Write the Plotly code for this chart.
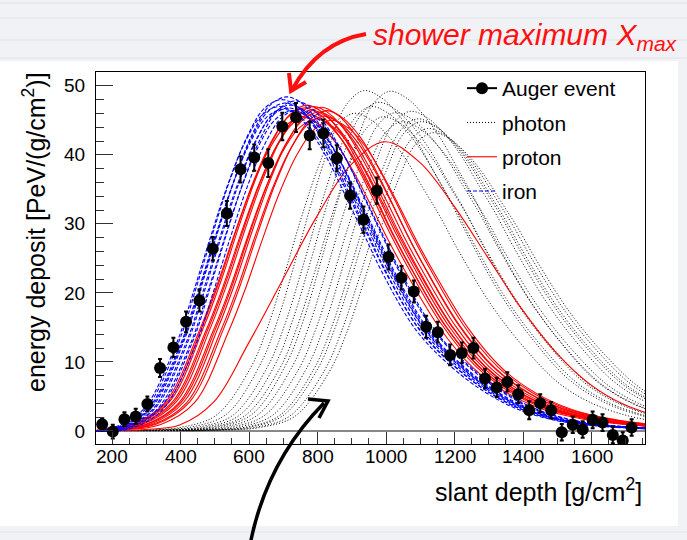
import plotly.graph_objects as go

# ---------------- data ----------------
# Auger event: slant depth [g/cm^2], energy deposit [PeV/(g/cm^2)], error
auger_depth = [171, 202, 236, 269, 303, 340, 379, 416, 455, 494,
               535, 575, 615, 656, 697, 737, 777, 817, 856, 895,
               934, 973, 1007, 1045, 1081, 1117, 1151, 1187, 1221, 1255,
               1289, 1323, 1354, 1386, 1418, 1450, 1482, 1513, 1545, 1574,
               1603, 1632, 1662, 1691, 1717]
auger_dep = [0.97, -0.1, 1.7, 2.1, 3.9, 9.1, 12.1, 15.8, 18.9, 26.4,
             31.5, 37.9, 39.6, 38.8, 44.1, 45.4, 42.8, 43.1, 39.5, 34.1,
             30.6, 34.8, 25.2, 22.2, 20.2, 15.1, 14.3, 11.0, 11.3, 12.0,
             7.6, 6.3, 7.1, 5.3, 3.0, 4.0, 3.0, -0.2, 0.9, 0.2,
             1.6, 1.2, -0.6, -1.4, 0.5]
auger_err = [0.9, 1.0, 1.0, 1.1, 1.1, 1.3, 1.4, 1.5, 1.6, 1.7,
             1.8, 1.9, 1.9, 2.0, 2.0, 2.1, 2.0, 2.0, 1.9, 1.9,
             1.9, 1.9, 1.8, 1.7, 1.6, 1.6, 1.5, 1.5, 1.5, 1.5,
             1.4, 1.4, 1.4, 1.3, 1.3, 1.3, 1.2, 1.2, 1.2, 1.2,
             1.2, 1.2, 1.2, 1.2, 1.2]

# Simulated profiles: depth of maximum and peak deposit of each curve
photon_xmax = [905, 935, 955, 975, 990, 1010, 1025, 1045, 1070, 1090, 1100, 1120, 1135]
photon_peak = [46.0, 49.3, 47.0, 47.6, 45.5, 49.2, 46.1, 44.8, 46.3, 45.2, 44.8, 43.8, 43.2]
proton_xmax = [755, 762, 768, 775, 781, 788, 795, 802, 810, 818, 826, 840, 997]
proton_peak = [45.5, 46.8, 47.2, 45.8, 46.5, 47.0, 45.2, 46.2, 46.9, 45.6, 46.4, 45.0, 41.9]
iron_xmax = [688, 695, 700, 705, 710, 715, 720, 728, 735, 745]
iron_peak = [47.0, 48.0, 46.6, 47.5, 48.4, 46.8, 47.2, 46.4, 47.8, 46.6]

# Profile shape of each family (depth offset from maximum, fraction of peak)
iron_offset = [-600, -500, -400, -300, -250, -200, -150, -100, -50, 0, 50, 100, 150,
               200, 250, 300, 400, 500, 600, 700, 800, 900, 1000, 1100]
iron_rel = [0.0006, 0.005, 0.063, 0.27, 0.43, 0.60, 0.76, 0.89, 0.974, 1.0, 0.976, 0.91,
            0.82, 0.71, 0.60, 0.49, 0.31, 0.20, 0.12, 0.065, 0.034, 0.018, 0.010, 0.005]
proton_offset = [-600, -500, -400, -300, -250, -200, -150, -100, -50, 0, 50, 100, 150,
                 200, 250, 300, 400, 500, 600, 700, 800, 900, 1000, 1100]
proton_rel = [0.005, 0.02, 0.09, 0.32, 0.46, 0.62, 0.77, 0.89, 0.97, 1.0, 0.975, 0.915,
              0.825, 0.72, 0.61, 0.51, 0.33, 0.20, 0.12, 0.07, 0.042, 0.025, 0.015, 0.009]
proton_deep_offset = [-800, -700, -600, -500, -400, -300, -200, -100, 0, 100, 200, 300,
                      400, 500, 600, 700, 800]
proton_deep_rel = [0.001, 0.005, 0.02, 0.1, 0.3, 0.52, 0.74, 0.92, 1.0, 0.93, 0.78, 0.6,
                   0.42, 0.27, 0.16, 0.09, 0.05]
photon_offset = [-700, -600, -500, -400, -300, -250, -200, -150, -100, -50, 0, 50, 100,
                 150, 200, 250, 300, 400, 500, 600, 700, 800, 900, 1000]
photon_rel = [0.0005, 0.003, 0.012, 0.05, 0.2, 0.33, 0.5, 0.68, 0.84, 0.96, 1.0, 0.98,
              0.93, 0.86, 0.77, 0.68, 0.58, 0.40, 0.26, 0.15, 0.085, 0.048, 0.027, 0.015]

x_ticks = [200, 400, 600, 800, 1000, 1200, 1400, 1600]
y_ticks = [0, 10, 20, 30, 40, 50]

# ---------------- layout constants ----------------
W, H = 687, 540
PL, PR, PT, PB = 96, 645, 72, 444
FONT = "Liberation Sans, Arial, Helvetica, sans-serif"


def px_x(px):
    return (px - PL) / (PR - PL)


def px_y(py):
    return (PB - py) / (PB - PT)


def family(xmaxs, peaks, offsets, rels, deep=None):
    xs, ys = [], []
    for i, (xm, pk) in enumerate(zip(xmaxs, peaks)):
        off, rel = offsets, rels
        if deep is not None and i == len(xmaxs) - 1:
            off, rel = deep
        xs += [xm + o for o in off] + [None]
        ys += [pk * r for r in rel] + [None]
    return xs, ys


fig = go.Figure()

px_, py_ = family(photon_xmax, photon_peak, photon_offset, photon_rel)
fig.add_trace(go.Scatter(x=px_, y=py_, mode="lines", name="photon", legendrank=2,
                         legendgroup="g2",
                         line=dict(color="black", width=1, dash="1px,2px", shape="spline")))
rx, ry = family(proton_xmax, proton_peak, proton_offset, proton_rel,
                deep=(proton_deep_offset, proton_deep_rel))
fig.add_trace(go.Scatter(x=rx, y=ry, mode="lines", name="proton", legendrank=3,
                         legendgroup="g3",
                         line=dict(color="#ff0000", width=1.1, shape="spline")))
ix, iy = family(iron_xmax, iron_peak, iron_offset, iron_rel)
fig.add_trace(go.Scatter(x=ix, y=iy, mode="lines", name="iron", legendrank=4,
                         legendgroup="g4",
                         line=dict(color="#0000ff", width=1.1, dash="4px,2px", shape="spline")))

fig.add_trace(go.Scatter(x=auger_depth, y=auger_dep, mode="markers", showlegend=False,
                         marker=dict(color="black", size=12),
                         error_y=dict(type="data", array=auger_err, color="black",
                                      thickness=2, width=2)))
fig.add_trace(go.Scatter(x=[None], y=[None], mode="lines+markers", name="Auger event",
                         legendrank=1, legendgroup="g1",
                         marker=dict(color="black", size=12),
                         line=dict(color="black", width=2)))

shapes = []
# card and lined-paper background
shapes.append(dict(type="rect", xref="paper", yref="paper", layer="below",
                   x0=px_x(-5), x1=px_x(678), y0=px_y(526), y1=px_y(61),
                   fillcolor="white", line=dict(width=0)))
for ly in [3, 18, 40, 58, 532]:
    shapes.append(dict(type="line", xref="paper", yref="paper", layer="below",
                       x0=px_x(0), x1=px_x(687), y0=px_y(ly), y1=px_y(ly),
                       line=dict(color="#dfe2e7", width=1)))


def path(points, cmd):
    s = ""
    for c, (a, b) in zip(cmd, points):
        s += f"{c}{px_x(a):.5f},{px_y(b):.5f} "
    return s.strip()


# red hand-drawn arrow
shapes.append(dict(type="path", xref="paper", yref="paper",
                   path=path([(366, 34), (318, 42), (292, 90)], ["M", "Q", " "]),
                   line=dict(color="#ff1010", width=4)))
shapes.append(dict(type="path", xref="paper", yref="paper",
                   path=path([(289, 73), (291, 91), (306, 82)], ["M", "L", "L"]),
                   line=dict(color="#ff1010", width=4)))
# black hand-drawn arrow
shapes.append(dict(type="path", xref="paper", yref="paper",
                   path=path([(250, 545), (266, 462), (324, 403)], ["M", "Q", " "]),
                   line=dict(color="black", width=3.5)))
shapes.append(dict(type="path", xref="paper", yref="paper",
                   path=path([(308, 399), (328, 401), (319, 418)], ["M", "L", "L"]),
                   line=dict(color="black", width=3.5)))

annotations = [
    dict(text="slant depth [g/cm<sup>2</sup>]", xref="paper", yref="paper",
         x=px_x(644), y=px_y(490), xanchor="right", yanchor="middle", showarrow=False,
         font=dict(family=FONT, size=25, color="black")),
    dict(text="energy deposit [PeV/(g/cm<sup>2</sup>)]", xref="paper", yref="paper",
         x=px_x(34), y=px_y(232), xanchor="center", yanchor="middle", showarrow=False,
         textangle=-90, font=dict(family=FONT, size=25, color="black")),
    dict(text="shower maximum X<sub>max</sub>", xref="paper", yref="paper",
         x=px_x(525), y=px_y(36), xanchor="center", yanchor="middle", showarrow=False,
         font=dict(family="Liberation Sans Narrow, Liberation Sans, sans-serif",
                   size=30, color="#ff1010", style="italic")),
]
# x tick labels placed just under the frame
for v in x_ticks:
    annotations.append(dict(text=str(v), xref="x", yref="paper", x=v, y=px_y(456),
                            xanchor="center", yanchor="middle", showarrow=False,
                            font=dict(family=FONT, size=19, color="black")))

fig.update_layout(
    width=W, height=H,
    margin=dict(l=PL, r=W - PR, t=PT, b=H - PB, pad=0),
    paper_bgcolor="#f1f2f5", plot_bgcolor="white",
    font=dict(family=FONT, size=19, color="black"),
    showlegend=True,
    legend=dict(x=px_x(462), y=px_y(68), xanchor="left", yanchor="top",
                bgcolor="rgba(0,0,0,0)", borderwidth=0, traceorder="grouped",
                tracegroupgap=4, font=dict(family=FONT, size=21, color="black"),
                itemwidth=30),
    shapes=shapes, annotations=annotations,
)
fig.update_xaxes(range=[153, 1756], tickvals=x_ticks, ticks="inside", ticklen=12,
                 tickwidth=1, tickcolor="#333", showgrid=False, zeroline=False,
                 showline=True, linecolor="black", linewidth=1, mirror=True,
                 showticklabels=False,
                 minor=dict(dtick=50, ticks="inside", ticklen=6, tickcolor="#333",
                            showgrid=False))
fig.update_yaxes(range=[-1.9, 52], tickvals=y_ticks, ticks="inside", ticklen=17,
                 tickwidth=1, tickcolor="#333", showgrid=False, zeroline=True,
                 zerolinecolor="#888", zerolinewidth=1.5,
                 showline=True, linecolor="black", linewidth=1, mirror=True,
                 ticklabelstandoff=6,
                 tickfont=dict(family=FONT, size=19, color="black"),
                 minor=dict(dtick=2, ticks="inside", ticklen=8, tickcolor="#333",
                            showgrid=False))

fig.write_html("out.html")
